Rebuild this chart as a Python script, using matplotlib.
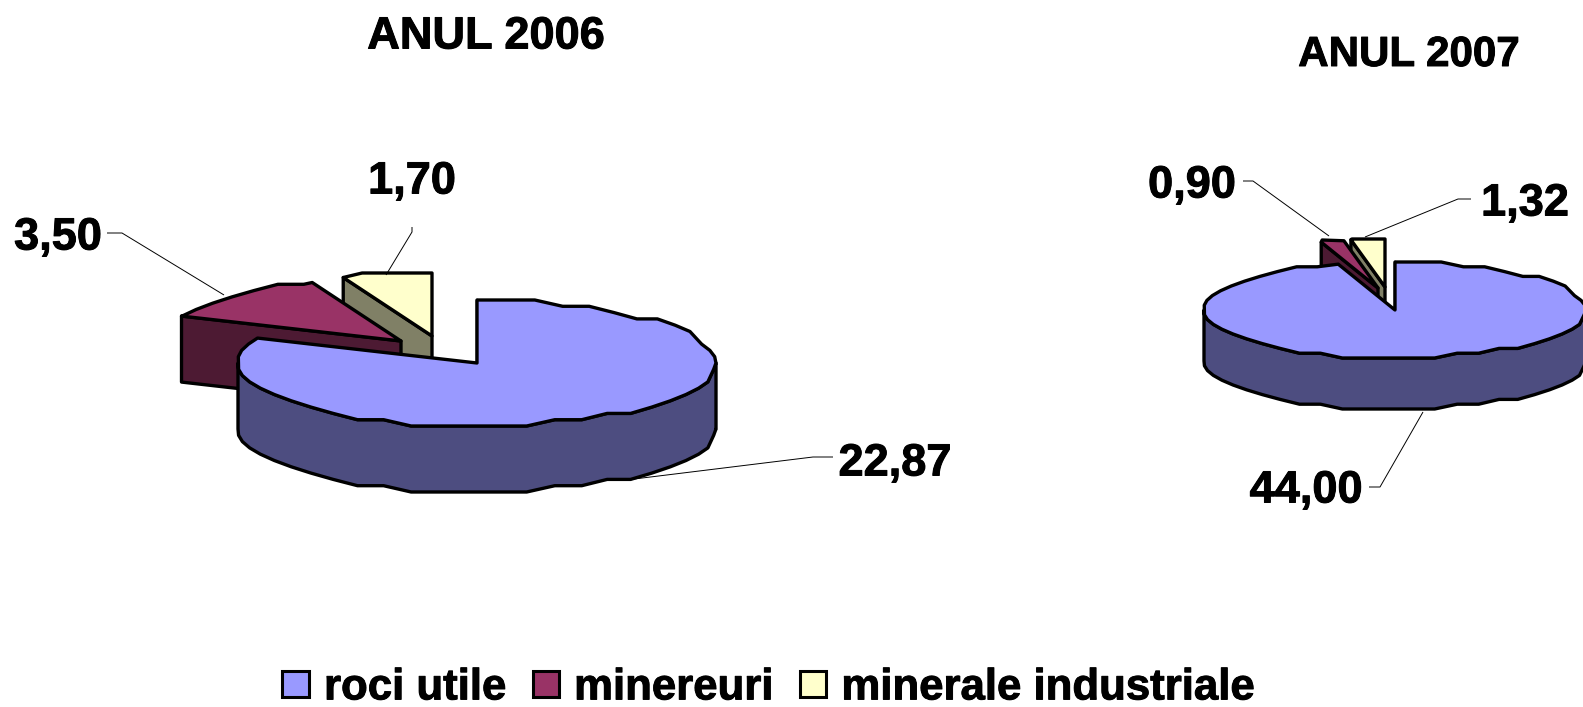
import matplotlib
matplotlib.use("Agg")
import matplotlib.pyplot as plt
import matplotlib.patheffects as pe
import numpy as np
from matplotlib.patches import Patch, Polygon

plt.rcParams['font.family'] = ['Liberation Sans', 'DejaVu Sans']

categories = ["roci utile", "minereuri", "minerale industriale"]
values_2006 = [22.87, 3.50, 1.70]
values_2007 = [44.00, 0.90, 1.32]

top_colors = ["#9999FF", "#993366", "#FFFFCC"]
side_colors = ["#4D4D80", "#4D1A33", "#808066"]
heavy = [pe.withStroke(linewidth=0.7, foreground="black")]


def fmt(v):
    return f"{v:.2f}".replace(".", ",")


def rim(cx, cy, rx, ry, t0, t1, step=7.0):
    # same angle grid for every call so top edge and wall share their corners
    stair = ry / 10
    grid = np.arange(0, 361, step)
    inner = grid[(grid > t0) & (grid < t1)]
    t = np.radians(np.concatenate([[t0], inner, [t1]]))
    x = cx + rx * np.sin(t)
    y = cy - ry * np.cos(t)
    y[1:-1] = np.round((y[1:-1] - cy) / stair) * stair + cy
    return np.column_stack([x, y])


def slice3d(ax, cx, cy, rx, ry, depth, t0, t1, off, i):
    ax0 = cx + off[0]
    ay0 = cy + off[1]
    edge = rim(ax0, ay0, rx, ry, t0, t1)
    lw = 2.4
    # only the leading cut face can be seen
    pt = edge[0]
    face = [pt, (ax0, ay0), (ax0, ay0 + depth), (pt[0], pt[1] + depth)]
    ax.add_patch(Polygon(face, closed=True, fc=side_colors[i], ec="black", lw=lw, joinstyle="round"))
    # outer wall only where the rim faces the viewer
    lo = max(t0, 90)
    hi = min(t1, 270)
    if hi > lo:
        wall = rim(ax0, ay0, rx, ry, lo, hi)
        low = wall[::-1] + [0, depth]
        ax.add_patch(Polygon(np.vstack([wall, low]), closed=True, fc=side_colors[i], ec="black", lw=lw, joinstyle="round"))
    top = np.vstack([[(ax0, ay0)], edge])
    ax.add_patch(Polygon(top, closed=True, fc=top_colors[i], ec="black", lw=lw, joinstyle="round"))


def pie3d(ax, values, cx, cy, rx, ry, depth, offsets):
    vals = np.asarray(values)
    ang = np.concatenate([[0], np.cumsum(vals) / vals.sum() * 360])
    for i in [2, 1, 0]:
        slice3d(ax, cx, cy, rx, ry, depth, ang[i], ang[i + 1], offsets[i], i)


def label(x, y, s, size=32.5):
    ax.text(x, y, s, fontsize=size, fontweight="bold", ha="center", va="center", path_effects=heavy)


fig = plt.figure(figsize=(15.83, 7.07), dpi=100)
ax = fig.add_axes([0, 0, 1, 1])
ax.set_xlim(0, 1583)
ax.set_ylim(707, 0)
ax.axis("off")

pie3d(ax, values_2006, 477, 363, 239, 63, 66, [(0, 0), (-76, -22), (-45, -27)])
pie3d(ax, values_2007, 1395, 310, 191, 48, 51, [(0, 0), (-17, -22), (-10, -23)])

leaders = [
    [(107, 233), (122, 233), (224, 295)],
    [(412, 227), (412, 232), (386, 275)],
    [(833, 457), (813, 457), (626, 480)],
    [(1243, 181), (1253, 181), (1329, 236)],
    [(1471, 199), (1458, 199), (1365, 237)],
    [(1369, 487), (1380, 487), (1423, 412)],
]
for pts in leaders:
    xs, ys = zip(*pts)
    ax.plot(xs, ys, color="black", lw=0.7, solid_capstyle="butt")

label(486, 37, "ANUL 2006")
label(1409, 55, "ANUL 2007", 30.3)
label(412, 182, fmt(values_2006[2]))
label(58, 238, fmt(values_2006[1]))
label(895, 464, fmt(values_2006[0]))
label(1192, 186, fmt(values_2007[1]))
label(1525, 204, fmt(values_2007[2]))
label(1306, 491, fmt(values_2007[0]))

handles = [Patch(fc=c, ec="black", lw=2.2) for c in top_colors]
leg = ax.legend(handles, categories, loc="center", bbox_to_anchor=(0.4855, 0.027), ncol=3, frameon=False,
                prop={"size": 31.5, "weight": "bold"}, handlelength=0.6, handleheight=0.55,
                handletextpad=0.35, columnspacing=0.6, borderpad=0, borderaxespad=0)
for t in leg.get_texts():
    t.set_path_effects(heavy)

fig.savefig("out.png", dpi=100)
